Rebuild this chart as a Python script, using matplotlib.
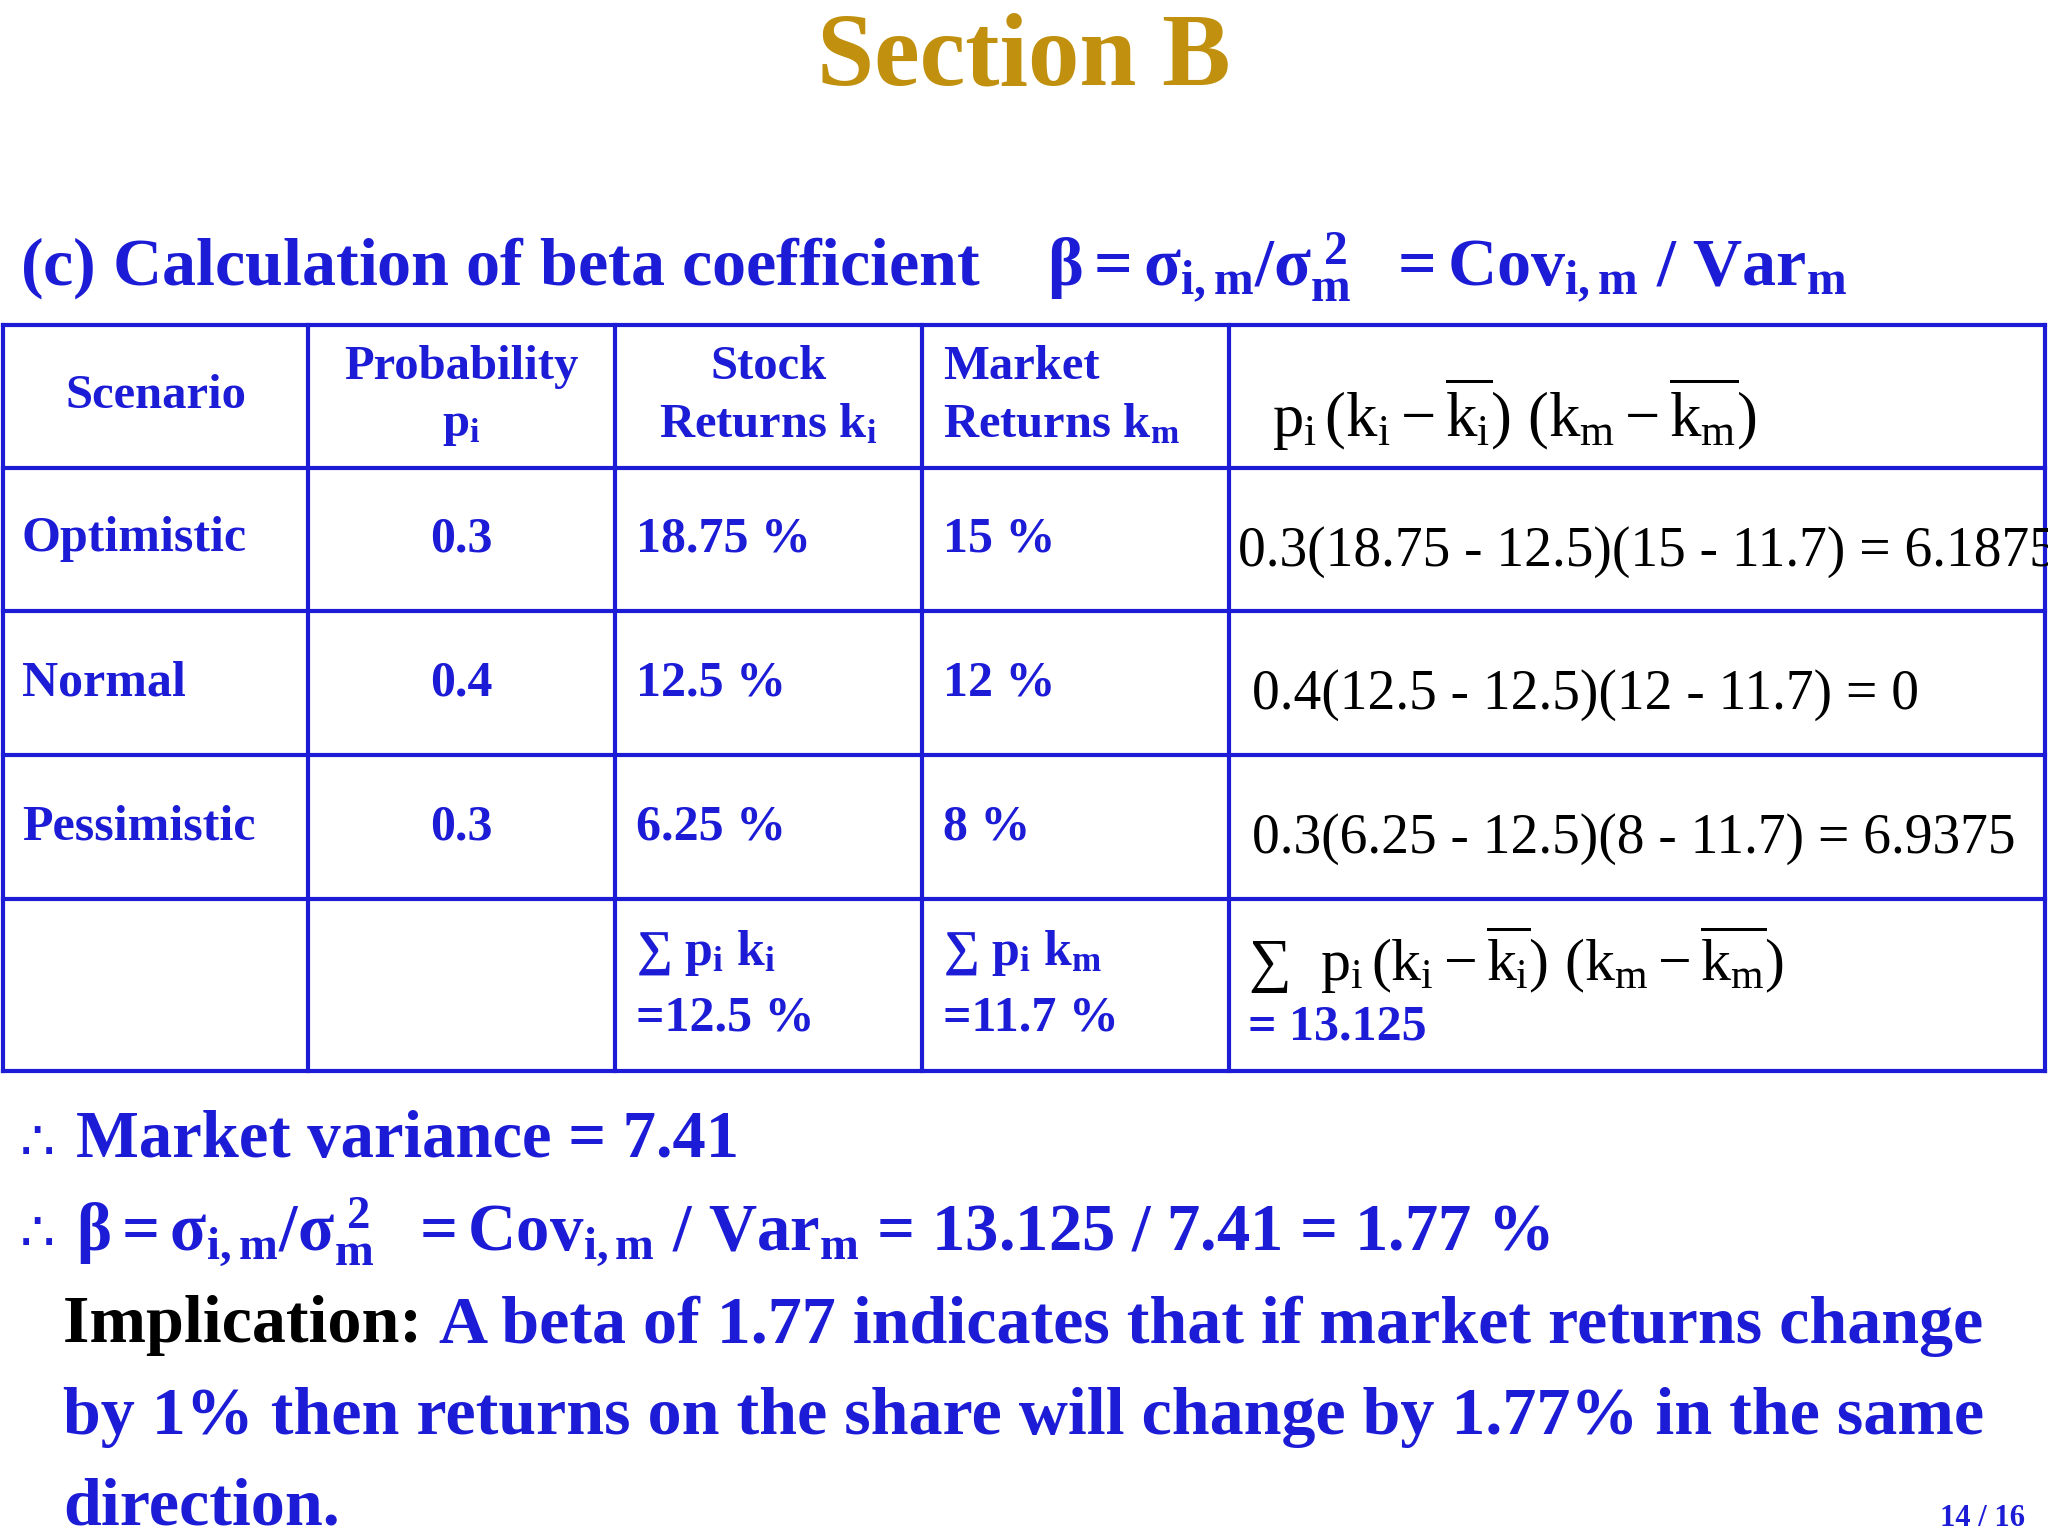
import matplotlib
matplotlib.use("Agg")
import matplotlib.pyplot as plt

plt.rcParams["font.family"] = ["Liberation Serif", "DejaVu Serif"]
plt.rcParams["mathtext.fontset"] = "custom"
plt.rcParams["mathtext.rm"] = "Liberation Serif"
plt.rcParams["mathtext.it"] = "Liberation Serif"
plt.rcParams["mathtext.bf"] = "Liberation Serif:bold"

BLUE = "#1c1cd6"
GOLD = "#c0900e"

scenarios = ["Optimistic", "Normal", "Pessimistic"]
probs = ["0.3", "0.4", "0.3"]
stock = ["18.75 %", "12.5 %", "6.25 %"]
market = ["15 %", "12 %", "8 %"]
products = ["0.3(18.75 - 12.5)(15 - 11.7) = 6.1875",
            "0.4(12.5 - 12.5)(12 - 11.7) = 0",
            "0.3(6.25 - 12.5)(8 - 11.7) = 6.9375"]
headers = ["Scenario", "Probability\n$\\mathbf{p_i}$", "Stock\nReturns $\\mathbf{k_i}$",
           "Market\nReturns $\\mathbf{k_m}$"]

col_x = [3, 308, 615, 922, 1229, 2045]
row_y = [325, 468, 611, 755, 899, 1071]
PROD = r"$p_i\,(k_i - \overline{k_i})\ (k_m - \overline{k_m})$"
BETA = r"$\mathbf{\beta = \sigma_{i,m}/\sigma_m^{\ 2}\ \ = Cov_{i,m}\ /\ Var_m}$"

fig = plt.figure(figsize=(20.48, 15.36), dpi=100)
ax = fig.add_axes([0, 0, 1, 1])
ax.set_xlim(0, 2048)
ax.set_ylim(1536, 0)
ax.axis("off")

ax.text(1024, 60, "Section B", color=GOLD, fontsize=74, fontweight="bold", ha="center", va="center")
ax.text(20, 268, "(c) Calculation of beta coefficient    " + BETA,
        color=BLUE, fontsize=49, fontweight="bold", va="center")

for x in col_x:
    ax.plot([x, x], [row_y[0], row_y[-1]], color=BLUE, lw=3)
for y in row_y:
    ax.plot([col_x[0], col_x[-1]], [y, y], color=BLUE, lw=3)

def cmid(i):
    return (col_x[i] + col_x[i + 1]) / 2

def rmid(j):
    return (row_y[j] + row_y[j + 1]) / 2

hx = [cmid(0), cmid(1), cmid(2), 943]
hal = ["center", "center", "center", "left"]
for i, h in enumerate(headers):
    ax.text(hx[i], rmid(0), h, color=BLUE, fontsize=35, fontweight="bold", ha=hal[i],
            va="center", multialignment=hal[i], linespacing=1.4)
ax.text(1272, rmid(0) + 18, PROD, color="black", fontsize=45, va="center")

for j in range(3):
    y = rmid(j + 1)
    ax.text(22, y, scenarios[j], color=BLUE, fontsize=36, fontweight="bold", va="center")
    ax.text(cmid(1), y, probs[j], color=BLUE, fontsize=36, fontweight="bold", ha="center", va="center")
    ax.text(636, y, stock[j], color=BLUE, fontsize=36, fontweight="bold", va="center")
    ax.text(943, y, market[j], color=BLUE, fontsize=36, fontweight="bold", va="center")
    ax.text(1238 + (14 if j else 0), y + 12, products[j], color="black", fontsize=40, va="center")

ys = rmid(4)
ax.text(636, ys, "$\\mathbf{\\sum\\ p_i\\ k_i}$\n=12.5 %", color=BLUE, fontsize=36,
        fontweight="bold", va="center", linespacing=1.5)
ax.text(943, ys, "$\\mathbf{\\sum\\ p_i\\ k_m}$\n=11.7 %", color=BLUE, fontsize=36,
        fontweight="bold", va="center", linespacing=1.5)
ax.text(1248, 960, r"$\sum$  " + PROD, color="black", fontsize=43, va="center")
ax.text(1248, 1027, "= 13.125", color=BLUE, fontsize=36, fontweight="bold", va="center")

for yy in (1141, 1232):
    ax.text(20, yy + 4, "∴", color=BLUE, fontsize=40, va="center",
            family=["DejaVu Sans", "Noto Sans CJK SC"])
ax.text(76, 1141, "Market variance = 7.41", color=BLUE, fontsize=48, fontweight="bold", va="center")
ax.text(76, 1232, BETA + " = 13.125 / 7.41 = 1.77 %",
        color=BLUE, fontsize=48, fontweight="bold", va="center")

fig.canvas.draw()
r = fig.canvas.get_renderer()
t = ax.text(63, 1326, "Implication: ", color="black", fontsize=49, fontweight="bold", va="center")
bb = t.get_window_extent(r)
x1 = ax.transData.inverted().transform((bb.x1, 0))[0]
ax.text(x1, 1326, "A beta of 1.77 indicates that if market returns change",
        color=BLUE, fontsize=49, fontweight="bold", va="center")
ax.text(63, 1417, "by 1% then returns on the share will change by 1.77% in the same",
        color=BLUE, fontsize=49, fontweight="bold", va="center")
ax.text(63, 1508, "direction.", color=BLUE, fontsize=49, fontweight="bold", va="center")
ax.text(2025, 1518, "14 / 16", color=BLUE, fontsize=22, fontweight="bold", ha="right", va="center")

fig.savefig("out.png", dpi=100)
